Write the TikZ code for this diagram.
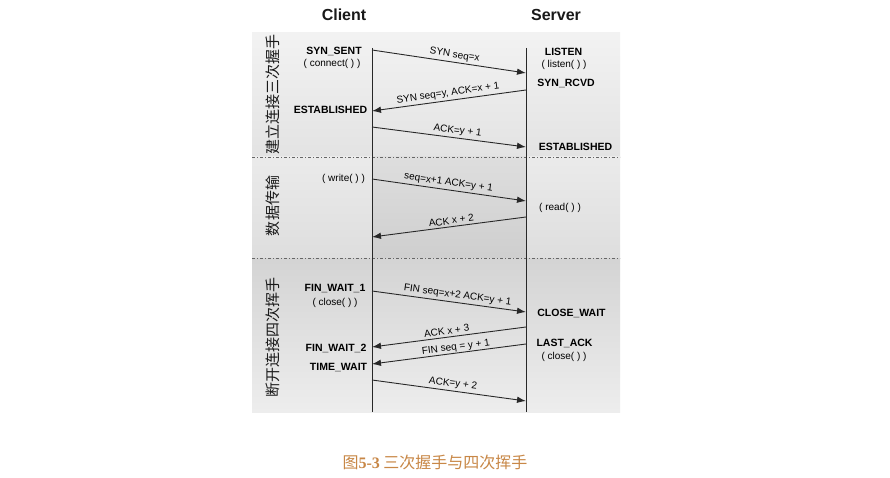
\documentclass[tikz,border=0pt]{standalone}
\usepackage{fontspec}
\setmainfont{Liberation Sans}
\newfontfamily\cjk{Noto Sans CJK SC}
\newfontfamily\capserif{Liberation Serif}
\usetikzlibrary{arrows.meta}
\definecolor{capc}{RGB}{200,135,70}
\definecolor{lnc}{RGB}{40,40,40}
\begin{document}
\begin{tikzpicture}[x=1pt,y=-1pt,
  st/.style={font=\fontsize{10.5}{12}\selectfont\bfseries, inner sep=0pt, text=black},
  fn/.style={font=\fontsize{10}{12}\selectfont, inner sep=0pt, text=black},
  msg/.style={draw=lnc, line width=0.9pt, -{Latex[length=9pt,width=6.5pt]}},
  lbl/.style={font=\fontsize{10}{12}\selectfont, sloped, above, inner sep=2pt, text=black},
  sepline/.style={draw=black!60, line width=0.8pt, dash pattern=on 3pt off 2pt on 1pt off 2pt},
  life/.style={draw=lnc, line width=1pt},
  vlab/.style={font=\cjk\fontsize{15}{15}\selectfont, rotate=90, inner sep=0pt, text=black!90},
  ttl/.style={font=\fontsize{16}{18}\selectfont\bfseries, inner sep=0pt, text=black!90}]
\useasboundingbox (0,0) rectangle (890,478);
\fill[white] (0,0) rectangle (890,478);
% background sections
\shade[top color=black!5, bottom color=black!11] (252,33) rectangle (620,157);
\shade[top color=black!8, bottom color=black!13] (252,157) rectangle (620,258);
\shade[top color=black!13, bottom color=black!19] (372,157) rectangle (526,258);
\shade[top color=black!17, bottom color=black!7] (252,258) rectangle (620,412);
% separators
\coordinate (sa1) at (252,157); \coordinate (sa2) at (620,157);
\coordinate (sb1) at (252,258); \coordinate (sb2) at (620,258);
\draw[sepline] (sa1) -- (sa2);
\draw[sepline] (sb1) -- (sb2);
% titles
\node[ttl] (client) at (344,15) {Client};
\node[ttl] (server) at (556,15) {Server};
% lifelines
\coordinate (ctop) at (372,48); \coordinate (cbot) at (372,412);
\coordinate (stop) at (526,48); \coordinate (sbot) at (526,412);
\draw[life] (ctop) -- (cbot);
\draw[life] (stop) -- (sbot);
% vertical section labels
\node[vlab] (v1) at (273,95) {建立连接三次握手};
\node[vlab] (v2) at (273,206) {数据传输};
\node[vlab] (v3) at (273,337) {断开连接四次挥手};
% client states
\node[st] (synsent) at (334,51) {SYN\_SENT};
\node[fn] (connect) at (332,64) {( connect( ) )};
\node[st] (estc) at (330.5,110) {ESTABLISHED};
\node[fn] (write) at (343.5,179) {( write( ) )};
\node[st] (fw1) at (335,289) {FIN\_WAIT\_1};
\node[fn] (closec) at (335,303) {( close( ) )};
\node[st] (fw2) at (336,348) {FIN\_WAIT\_2};
\node[st] (tw) at (338.5,368) {TIME\_WAIT};
% server states
\node[st] (listen) at (563.5,52) {LISTEN};
\node[fn] (listenf) at (564,65) {( listen( ) )};
\node[st] (synrcvd) at (566,83) {SYN\_RCVD};
\node[st] (ests) at (575.5,147) {ESTABLISHED};
\node[fn] (read) at (560,208) {( read( ) )};
\node[st] (closew) at (571.5,313) {CLOSE\_WAIT};
\node[st] (lastack) at (564.5,343) {LAST\_ACK};
\node[fn] (closes) at (564,357) {( close( ) )};
% message end points
\coordinate (c1) at (372,50);  \coordinate (s1) at (526,73);
\coordinate (s2) at (526,90);  \coordinate (c2) at (372,111);
\coordinate (c3) at (372,127); \coordinate (s3) at (526,147);
\coordinate (c4) at (372,179); \coordinate (s4) at (526,201);
\coordinate (s5) at (526,217); \coordinate (c5) at (372,237);
\coordinate (c6) at (372,291); \coordinate (s6) at (526,312);
\coordinate (s7) at (526,327); \coordinate (c7) at (372,347);
\coordinate (s8) at (526,344); \coordinate (c8) at (372,364);
\coordinate (c9) at (372,380); \coordinate (s9) at (526,401);
% messages
\draw[msg] (c1) -- node[lbl, pos=0.53] (m1) {SYN seq=x} (s1);
\draw[msg] (s2) -- node[lbl, pos=0.5] (m2) {SYN seq=y, ACK=x + 1} (c2);
\draw[msg] (c3) -- node[lbl, pos=0.55] (m3) {ACK=y + 1} (s3);
\draw[msg] (c4) -- node[lbl, pos=0.49] (m4) {seq=x+1 ACK=y + 1} (s4);
\draw[msg] (s5) -- node[lbl, pos=0.48] (m5) {ACK x + 2} (c5);
\draw[msg] (c6) -- node[lbl, pos=0.55] (m6) {FIN seq=x+2 ACK=y + 1} (s6);
\draw[msg] (s7) -- node[lbl, pos=0.51, inner sep=2.5pt] (m7) {ACK x + 3} (c7);
\draw[msg] (s8) -- node[lbl, pos=0.45, inner sep=0.6pt] (m8) {FIN seq = y + 1} (c8);
\draw[msg] (c9) -- node[lbl, pos=0.52] (m9) {ACK=y + 2} (s9);
% caption
\node[inner sep=0pt, text=capc, font=\cjk\fontsize{16}{16}\selectfont] (cap) at (435,462) {图{\capserif\bfseries 5-3} 三次握手与四次挥手};
\end{tikzpicture}
\end{document}
